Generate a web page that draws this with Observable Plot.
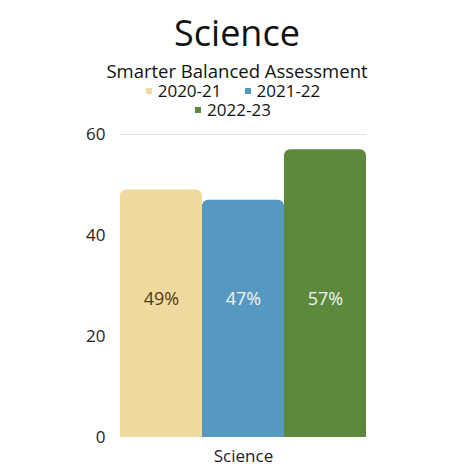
<!DOCTYPE html>
<html>
<head>
<meta charset="utf-8">
<script src="https://cdn.jsdelivr.net/npm/d3@7"></script>
<script src="https://cdn.jsdelivr.net/npm/@observablehq/plot@0.6"></script>
<style>
  html, body { margin: 0; padding: 0; background: #fff; }
  body { width: 474px; height: 474px; overflow: hidden; font-family: "Open Sans", sans-serif; color: #111; }
  #header { height: 122px; text-align: center; }
  #title { font-size: 36px; line-height: 50px; padding-top: 8px; height: 50px; }
  #subtitle { font-size: 18.5px; line-height: 20px; margin-top: 3px; height: 20px; }
  #legend { width: 190px; margin: 0 auto; transform: translateX(-4px); display: flex; flex-wrap: wrap; justify-content: center; column-gap: 23px; font-size: 17px; line-height: 19px; }
  .item { display: flex; align-items: center; white-space: nowrap; }
  .sw { width: 6px; height: 6px; margin-right: 6px; display: inline-block; }
  #chart svg { display: block; }
</style>
</head>
<body>
<div id="header">
  <div id="title"></div>
  <div id="subtitle"></div>
  <div id="legend"></div>
</div>
<div id="chart"></div>
<script>
const titleText = "Science";
const subtitleText = "Smarter Balanced Assessment";
const subjects = ["Science"];
const years = ["2020-21", "2021-22", "2022-23"];
const values = [49, 47, 57];
const colors = ["#f0daa0", "#5599c0", "#5c893c"];
const labelColors = ["#4b3a15", "#f4f4f4", "#f4f4f4"];
const yTicks = [0, 20, 40, 60];

document.getElementById("title").textContent = titleText;
document.getElementById("subtitle").textContent = subtitleText;

const legend = d3.select("#legend");
years.forEach((y, i) => {
  const it = legend.append("div").attr("class", "item");
  it.append("span").attr("class", "sw").style("background", colors[i]);
  it.append("span").text(y);
});

const data = years.map((y, i) => ({subject: subjects[0], year: y, value: values[i], label: values[i] + "%", lc: labelColors[i]}));

const chart = Plot.plot({
  width: 474,
  height: 352,
  marginLeft: 120,
  marginRight: 108,
  marginTop: 12,
  marginBottom: 37,
  style: {fontFamily: "Open Sans, sans-serif", fontSize: "17px", color: "#222", background: "#fff"},
  fx: {domain: subjects, padding: 0, label: null, axis: "bottom", tickSize: 0, tickPadding: 12, fontSize: 18},
  x: {domain: years, padding: 0, axis: null},
  y: {domain: [0, 60], ticks: yTicks, label: null, tickSize: 0, tickPadding: 15},
  color: {domain: years, range: colors},
  marks: [
    Plot.ruleY(yTicks.filter(t => t > 0), {stroke: "#e3e3e3", strokeWidth: 1}),
    Plot.barY(data, {fx: "subject", x: "year", y: "value", fill: "year", inset: 0, ry1: 6}),
    Plot.text(data, {fx: "subject", x: "year", text: "label", fill: "lc", frameAnchor: "middle", dy: 13, fontSize: 18})
  ]
});
document.getElementById("chart").appendChild(chart);
</script>
</body>
</html>
